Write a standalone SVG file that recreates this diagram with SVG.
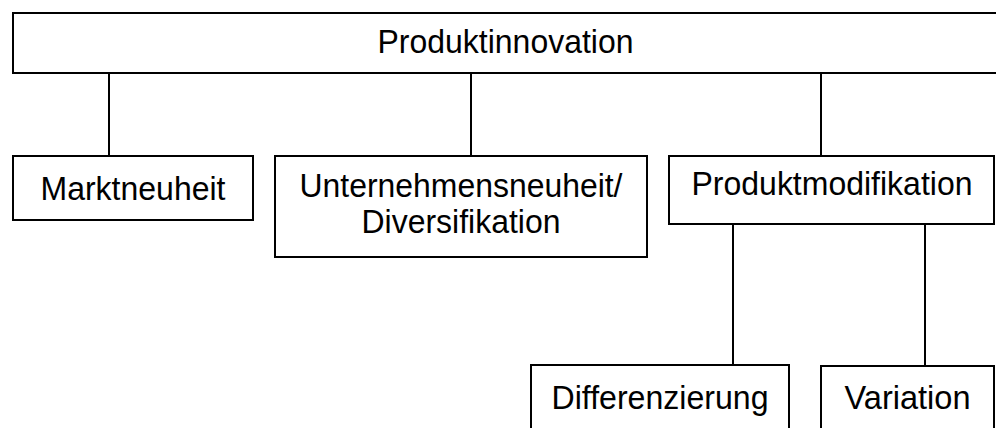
<svg xmlns="http://www.w3.org/2000/svg" width="996" height="428" viewBox="0 0 996 428">
<style>
.box{fill:#fff;stroke:#000;stroke-width:2}
.lbl{font-family:"Liberation Sans",Arial,sans-serif;font-size:33px;fill:#000;text-anchor:middle}
.con{stroke:#000;stroke-width:2;fill:none}
</style>
<rect width="996" height="428" fill="#fff"/>
<g id="connectors">
<line class="con" x1="109" y1="73" x2="109" y2="156"/>
<line class="con" x1="471" y1="73" x2="471" y2="156"/>
<line class="con" x1="821" y1="73" x2="821" y2="156"/>
<line class="con" x1="733" y1="224" x2="733" y2="365"/>
<line class="con" x1="925" y1="224" x2="925" y2="366"/>
</g>
<g id="produktinnovation">
<rect class="box" x="13" y="13" width="990" height="60"/>
<text class="lbl" x="505.5" y="52.5" textLength="256" lengthAdjust="spacingAndGlyphs">Produktinnovation</text>
</g>
<g id="marktneuheit">
<rect class="box" x="13" y="156" width="240" height="64"/>
<text class="lbl" x="133" y="200" textLength="185" lengthAdjust="spacingAndGlyphs">Marktneuheit</text>
</g>
<g id="unternehmensneuheit">
<rect class="box" x="275" y="156" width="372" height="101"/>
<text class="lbl" x="461" y="197" textLength="323" lengthAdjust="spacingAndGlyphs">Unternehmensneuheit/</text>
<text class="lbl" x="461" y="233" textLength="199" lengthAdjust="spacingAndGlyphs">Diversifikation</text>
</g>
<g id="produktmodifikation">
<rect class="box" x="669" y="156" width="325" height="68"/>
<text class="lbl" x="832" y="195" textLength="281" lengthAdjust="spacingAndGlyphs">Produktmodifikation</text>
</g>
<g id="differenzierung">
<rect class="box" x="531" y="365" width="258" height="80"/>
<text class="lbl" x="660" y="408.5" textLength="217" lengthAdjust="spacingAndGlyphs">Differenzierung</text>
</g>
<g id="variation">
<rect class="box" x="821" y="366" width="173" height="80"/>
<text class="lbl" x="907.5" y="408.5" textLength="126" lengthAdjust="spacingAndGlyphs">Variation</text>
</g>
</svg>
